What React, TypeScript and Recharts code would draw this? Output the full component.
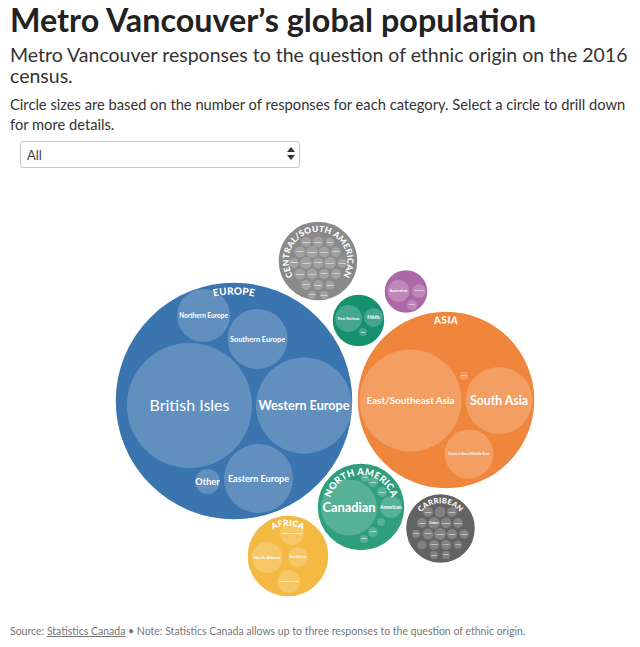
import React from "react";
import { Scatter, ScatterChart, XAxis, YAxis, ZAxis } from "recharts";

const FONT = "Lato, 'Open Sans', sans-serif";

// Regiones de primer nivel. Tamaño = respuestas (miles, estimadas del área
// del círculo); posX/posY = coordenadas del empaquetado en unidades del eje.
const regionNames = [
  "Europe",
  "Asia",
  "Central/South American",
  "North American Aboriginal",
  "Oceania",
  "North America",
  "Carribean",
  "Africa",
];
const regionArcLabels = [
  "EUROPE",
  "ASIA",
  "CENTRAL/SOUTH AMERICAN",
  "",
  "",
  "NORTH AMERICA",
  "CARRIBEAN",
  "AFRICA",
];
const regionResponses = [2832, 1584, 320, 140, 97, 387, 245, 336];
const regionPosX = [226, 438, 310, 350.5, 398, 353, 432.5, 280];
const regionPosY = [226, 225, 86, 145.5, 116.5, 332, 353.5, 381];

const REGION_COLORS = [
  "#3a75b0",
  "#f0863c",
  "#8a8a8a",
  "#17906e",
  "#ad69a7",
  "#2e9e7d",
  "#636363",
  "#f3b942",
];

// Subcategorías: [nombre, respuestas (miles), posX, posY]
type Row = [string, number, number, number];

const europe: Row[] = [
  ["British Isles", 781, 181.5, 230.5],
  ["Western Europe", 461, 296, 230.5],
  ["Eastern Europe", 238, 250.5, 303.5],
  ["Southern Europe", 180, 249.5, 164],
  ["Northern Europe", 140, 195.5, 140.5],
  ["Other", 31, 199.5, 306.5],
];

const asia: Row[] = [
  ["East/Southeast Asia", 520, 402.5, 225.5],
  ["South Asia", 224, 491, 225.5],
  ["Central Asia/Middle East", 120, 461, 279],
  ["Other Asian", 3.2, 456, 201],
];

const centralSouthAmerican: Row[] = [
  ["Mexican", 5, 298, 67],
  ["Brazilian", 6, 310, 67],
  ["Chilean", 4, 322, 67],
  ["Salvadorean", 6, 292, 77],
  ["Colombian", 7.2, 304, 77],
  ["Peruvian", 6, 316, 77],
  ["Argentinian", 5, 328, 77],
  ["Guatemalan", 5, 286, 88],
  ["Venezuelan", 7.2, 298, 88],
  ["Nicaraguan", 6, 310, 88],
  ["Ecuadorian", 7.2, 322, 88],
  ["Honduran", 4, 334, 88],
  ["Uruguayan", 6, 292, 99],
  ["Bolivian", 6, 304, 99],
  ["Paraguayan", 5, 316, 99],
  ["Costa Rican", 5, 328, 99],
  ["Panamanian", 5, 298, 110],
  ["Belizean", 5, 310, 110],
  ["Guyanese", 4, 322, 110],
  ["Hispanic", 3.2, 304, 120],
  ["Maya", 3.2, 316, 120],
];

const northAmericanAboriginal: Row[] = [
  ["First Nations", 36, 340.5, 143.5],
  ["Métis", 18, 365.5, 142.5],
  ["Inuit", 3.2, 355, 157],
];

const oceania: Row[] = [
  ["Australian", 24, 390.5, 116],
  ["New Zealander", 10, 411, 116],
  ["Pacific Islands", 5, 404, 130],
];

const northAmerica: Row[] = [
  ["Canadian", 157, 341, 332.5],
  ["American", 24, 383, 332],
  ["Québécois", 5, 374, 317],
  ["Acadian", 5, 365, 307],
  ["Newfoundlander", 3.2, 357, 303],
  ["Franco Ontarian", 3.2, 373, 347],
  ["Nova Scotian", 5, 365, 357],
  ["Ontarian", 3.2, 356, 364],
];

const carribean: Row[] = [
  ["Jamaican", 5, 420, 337],
  ["Trinidadian/Tobagonian", 6, 432, 337],
  ["Barbadian", 5, 444, 337],
  ["Haitian", 5, 414, 348],
  ["Cuban", 7.2, 426, 348],
  ["Bahamian", 6, 438, 348],
  ["Dominican", 5, 450, 348],
  ["Grenadian", 3.2, 408, 359],
  ["Puerto Rican", 6, 420, 359],
  ["Vincentian", 7.2, 432, 359],
  ["Antiguan", 5, 444, 359],
  ["Bermudan", 4, 456, 359],
  ["Kittitian/Nevisian", 4, 414, 370],
  ["Martinican", 5, 426, 370],
  ["St. Lucian", 5, 438, 370],
  ["West Indian", 3.2, 450, 370],
  ["Carib", 3.2, 426, 380],
  ["Montserratan", 3.2, 438, 380],
];

const africa: Row[] = [
  ["Central and West African", 29, 284, 358],
  ["North African", 48, 259, 382.5],
  ["East African", 20, 290, 382],
  ["Southern African", 26, 281, 406.5],
];

const subcategories = [
  europe,
  asia,
  centralSouthAmerican,
  northAmericanAboriginal,
  oceania,
  northAmerica,
  carribean,
  africa,
];

const CHART_WIDTH = 624;
const CHART_HEIGHT = 440;
// Respuestas -> área en px²: r² = 5 · respuestas
const Z_DOMAIN_MAX = 3000;
const Z_AREA_MAX = Math.PI * 5 * Z_DOMAIN_MAX;

const regionData = regionNames.map((name, i) => ({
  name,
  label: regionArcLabels[i],
  value: regionResponses[i],
  x: regionPosX[i],
  y: regionPosY[i],
  color: REGION_COLORS[i],
}));

const childData = subcategories.flatMap((rows) =>
  rows.map(([name, value, x, y]) => ({ name, value, x, y }))
);

function radiusOf(props: any) {
  if (typeof props.size === "number") return Math.sqrt(props.size / Math.PI);
  if (typeof props.width === "number") return props.width / 2;
  return 0;
}

function RegionCircle(props: any) {
  const { cx, cy, payload } = props;
  return (
    <circle
      cx={cx}
      cy={cy}
      r={radiusOf(props)}
      fill={payload.color}
      stroke="#fff"
      strokeWidth={1.5}
    />
  );
}

function ChildCircle(props: any) {
  const { cx, cy, payload } = props;
  const r = radiusOf(props);
  // Los círculos diminutos llevan la etiqueta más estrecha para no salirse
  const fit = r >= 10 ? 1.84 : 1.3;
  const fontSize = Math.min(16, (fit * r) / (payload.name.length * 0.5));
  return (
    <g>
      <circle cx={cx} cy={cy} r={r} fill="#fff" fillOpacity={0.2} />
      <text
        x={cx}
        y={cy}
        dy="0.35em"
        textAnchor="middle"
        fill="#fff"
        fontFamily={FONT}
        fontSize={fontSize}
        fontWeight={fontSize >= 14 ? 400 : 700}
      >
        {payload.name}
      </text>
    </g>
  );
}

// Etiqueta curva por dentro del borde superior de cada región.
function RegionArcLabel(props: any) {
  const { cx, cy, payload } = props;
  if (!payload.label) return <g />;
  const r = radiusOf(props);
  const fontSize = r > 60 ? 10 : r > 41 ? 9.5 : r > 38 ? 8.5 : 7.5;
  const R = r - fontSize * 1.15 - 1;
  const ext = 0.75;
  const x0 = cx - R * Math.cos(ext);
  const x1 = cx + R * Math.cos(ext);
  const y0 = cy + R * Math.sin(ext);
  const id = `arc-${payload.name.replace(/[^a-z]/gi, "")}`;
  return (
    <g>
      <path id={id} d={`M${x0},${y0} A${R},${R} 0 1 1 ${x1},${y0}`} fill="none" />
      <text
        fill="#fff"
        fontFamily={FONT}
        fontSize={fontSize}
        fontWeight={900}
        letterSpacing={0.2}
      >
        <textPath href={`#${id}`} startOffset="50%" textAnchor="middle">
          {payload.label}
        </textPath>
      </text>
    </g>
  );
}

function SelectBox() {
  return (
    <div
      style={{
        position: "absolute",
        left: 12,
        top: 133,
        width: 278,
        height: 25,
        border: "1px solid #c8c8c8",
        borderRadius: 3,
        background: "#fff",
        fontFamily: FONT,
        fontSize: 13,
        color: "#444",
      }}
    >
      <span style={{ position: "absolute", left: 6, top: 5 }}>All</span>
      <svg
        width={8}
        height={14}
        style={{ position: "absolute", right: 4, top: 5 }}
      >
        <path d="M4,0 L8,5 L0,5 Z" fill="#333" />
        <path d="M0,8 L8,8 L4,13 Z" fill="#333" />
      </svg>
    </div>
  );
}

export default function App() {
  return (
    <div
      style={{
        position: "relative",
        width: 624,
        height: 639,
        fontFamily: FONT,
        color: "#222",
      }}
    >
      <div
        style={{
          position: "absolute",
          left: 2,
          top: -4,
          fontSize: 32.3,
          lineHeight: 1,
          fontWeight: 700,
          whiteSpace: "nowrap",
        }}
      >
        Metro Vancouver’s global population
      </div>
      <div
        style={{
          position: "absolute",
          left: 2,
          top: 36,
          fontSize: 19.5,
          lineHeight: "21px",
          whiteSpace: "nowrap",
          color: "#333",
        }}
      >
        Metro Vancouver responses to the question of ethnic origin on the 2016
        <br />
        census.
      </div>
      <div
        style={{
          position: "absolute",
          left: 2,
          top: 86,
          fontSize: 14.7,
          lineHeight: "20px",
          whiteSpace: "nowrap",
          color: "#333",
        }}
      >
        Circle sizes are based on the number of responses for each category.
        Select a circle to drill down
        <br />
        for more details.
      </div>
      <SelectBox />

      <div style={{ position: "absolute", left: 0, top: 167 }}>
        <ScatterChart
          width={CHART_WIDTH}
          height={CHART_HEIGHT}
          margin={{ top: 0, right: 0, bottom: 0, left: 0 }}
        >
          <XAxis type="number" dataKey="x" domain={[0, CHART_WIDTH]} hide />
          <YAxis
            type="number"
            dataKey="y"
            domain={[0, CHART_HEIGHT]}
            reversed
            hide
          />
          <ZAxis
            type="number"
            dataKey="value"
            domain={[0, Z_DOMAIN_MAX]}
            range={[0, Z_AREA_MAX]}
          />
          <Scatter
            data={regionData}
            shape={RegionCircle}
            isAnimationActive={false}
          />
          <Scatter
            data={childData}
            shape={ChildCircle}
            isAnimationActive={false}
          />
          <Scatter
            data={regionData}
            shape={RegionArcLabel}
            isAnimationActive={false}
          />
        </ScatterChart>
      </div>

      <div
        style={{
          position: "absolute",
          left: 2,
          top: 618,
          fontSize: 10.5,
          lineHeight: 1,
          whiteSpace: "nowrap",
          color: "#777",
        }}
      >
        Source:{" "}
        <span style={{ textDecoration: "underline" }}>Statistics Canada</span> •
        Note: Statistics Canada allows up to three responses to the question of
        ethnic origin.
      </div>
    </div>
  );
}
